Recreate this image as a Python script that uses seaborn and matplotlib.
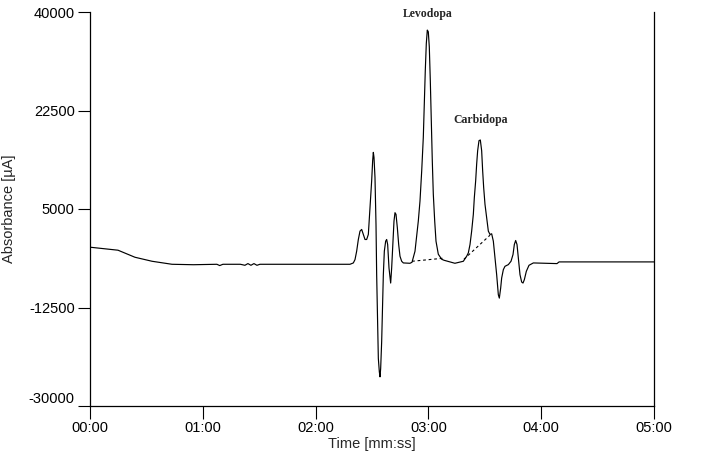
import numpy as np
import pandas as pd
import seaborn as sns
import matplotlib.pyplot as plt
from matplotlib.ticker import FuncFormatter

# trace: time in seconds, signal in uA
time_s = [0, 14.9, 23.9, 33.0, 43.6, 55.0, 67.5, 69.0, 70.7, 80.0, 82.4, 84.0, 85.6, 87.2, 88.8, 90.4,
          110.0, 133.0, 138.3,
          # first cluster
          140.07, 140.96, 141.84, 142.73, 143.62, 144.51, 145.39, 146.28, 147.16, 148.05, 148.94,
          149.82, 150.35, 150.71, 151.06, 151.59, 152.13, 152.48, 153.01, 153.37, 153.90, 154.26,
          154.61, 155.14, 155.67, 156.03, 156.56, 157.27, 157.80, 158.33, 159.04, 159.93, 160.46,
          160.99, 161.70, 162.23, 162.77, 163.48, 164.19, 164.89, 165.78, 166.67, 170.2,
          # levodopa
          171.28, 172.87, 174.63, 175.53, 176.44, 177.29, 177.82, 178.35, 178.89, 179.42, 179.95,
          180.48, 181.01, 181.54, 182.07, 182.61, 183.35, 184.04, 185.27, 187.07, 188.3, 194.1,
          # carbidopa and tail
          198.58, 200.35, 201.24, 202.13, 203.01, 203.90, 204.43, 205.14, 205.67, 206.20, 206.91,
          207.62, 208.33, 208.86, 209.40, 210.10, 210.99, 211.88, 212.77, 213.65, 214.54, 215.43,
          216.31, 217.20, 217.73, 218.44, 218.97, 219.86, 220.74, 222.52, 223.94, 225.0, 225.71,
          226.42, 227.13, 227.84, 228.72, 229.61, 230.32, 231.03, 232.09, 233.51, 235.82, 248.4,
          249.5, 300.0]
signal = [-1786, -2321, -3571, -4286, -4821, -4900, -4821, -5050, -4821, -4821, -5000, -4700, -5000, -4700,
          -5000, -4821, -4821, -4821, -4821,
          -4583, -3988, -2500, -417, 1071, 1369, 476, -417, -417, 476, 5238,
          10000, 13571, 15060, 14167, 10595, 2262, -6667, -15595, -21548, -23929, -24821,
          -23333, -18571, -11429, -6667, -2500, -714, -417, -1310, -5476, -8155, -5476,
          -1905, 2857, 4345, 4048, 1667, -1310, -3393, -4286, -4583, -4643,
          -4464, -2500, 2857, 6429, 11786, 17732, 23696, 29643, 34411, 36786, 36482,
          33804, 27857, 20714, 13571, 7625, 2857, -714, -3036, -3929, -4107, -4643,
          -4286, -3393, -2798, -1310, 1071, 4048, 7024, 10000, 12976, 15357, 17143,
          17262, 15357, 11786, 8810, 5833, 3452, 1071, 476, 595, -714, -3690,
          -6667, -10238, -10833, -9048, -7262, -5774, -5179, -4881, -4286, -3095, -1310,
          -595, -1310, -3690, -6667, -7976, -8155, -7560, -6071, -5000, -4583, -4700,
          -4400, -4400]

# integration baselines (dashed)
levo_base_t = [171.3, 187.8]
levo_base_v = [-4286, -3750]
carbi_base_t = [198.9, 212.8]
carbi_base_v = [-3929, 357]

y_ticks = [40000, 22500, 5000, -12500, -30000]
x_ticks = [0, 60, 120, 180, 240, 300]

df = pd.DataFrame({'Time': time_s, 'Signal': signal})

sns.set_style('ticks')
plt.rcParams['font.family'] = ['Liberation Sans', 'DejaVu Sans']

fig = plt.figure(figsize=(7.15, 4.57), dpi=100)
ax = fig.add_axes([90 / 715, 1 - 406 / 457, 564 / 715, 394 / 457])

sns.lineplot(data=df, x='Time', y='Signal', estimator=None, sort=False,
             color='black', linewidth=0.85, ax=ax)
ax.plot(levo_base_t, levo_base_v, color='black', linestyle=(0, (2.5, 2.5)), linewidth=0.8)
ax.plot(carbi_base_t, carbi_base_v, color='black', linestyle=(0, (2.5, 2.5)), linewidth=0.8)

ax.set_xlim(0, 300)
ax.set_ylim(-30000, 40000)
ax.set_xticks(x_ticks)
ax.set_yticks(y_ticks)
ax.xaxis.set_major_formatter(FuncFormatter(lambda v, p: f'{int(v) // 60:02d}:{int(v) % 60:02d}'))
ax.yaxis.set_major_formatter(FuncFormatter(lambda v, p: f'{int(v)}'))
ax.tick_params(direction='out', length=9, width=0.8, labelsize=10.5, colors='black', pad=2)

ax.spines['top'].set_visible(False)
for s in ['left', 'right', 'bottom']:
    ax.spines[s].set_linewidth(0.9)
    ax.spines[s].set_color('black')

ax.set_xlabel('Time [mm:ss]', fontsize=10.5, labelpad=1)
ax.set_ylabel('Absorbance [µA]', fontsize=10.5, labelpad=9)

# the lowest tick label sits just above its tick in the original
for lbl in ax.get_yticklabels():
    if lbl.get_text() == '-30000':
        lbl.set_va('bottom')

ax.text(179.8, 39700, 'Levodopa', ha='center', va='center', fontsize=8.5, fontweight='bold',
        family=['Liberation Serif', 'DejaVu Serif'], clip_on=False)
ax.text(208, 20900, 'Carbidopa', ha='center', va='center', fontsize=8.5, fontweight='bold',
        family=['Liberation Serif', 'DejaVu Serif'], clip_on=False)

fig.savefig('out.png', dpi=100)
